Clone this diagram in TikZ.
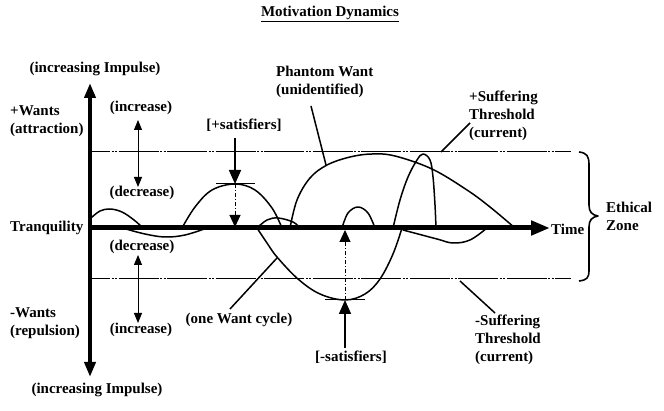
\documentclass[tikz,border=0pt]{standalone}
\usepackage{fontspec}
\setmainfont{Liberation Serif}
\usetikzlibrary{arrows.meta}
\tikzset{
  axtip/.tip={Triangle[length=15pt,width=11pt]},
  timetip/.tip={Triangle[length=19pt,width=14pt]},
  sattip/.tip={Triangle[length=14pt,width=12pt]},
  smalltip/.tip={Triangle[length=12pt,width=11pt]},
  dirtip/.tip={Triangle[length=10pt,width=8pt]},
}
\begin{document}
\begin{tikzpicture}[x=1pt,y=-1pt,
  lbl/.style={font=\fontsize{15}{18}\selectfont\bfseries, inner sep=0pt, align=left},
  axisline/.style={line width=4pt},
  timeline/.style={line width=5pt},
  curve/.style={line width=1.5pt, line join=round, line cap=round},
  leader/.style={line width=1.5pt},
  thresh/.style={line width=1pt, dash pattern=on 40pt off 1.5pt on 2pt off 1.5pt on 2pt off 1.5pt, dash phase=20pt},
  dotline/.style={line width=1pt, dash pattern=on 4pt off 2pt on 1pt off 2pt},
  tick/.style={line width=1pt},
  dirline/.style={line width=1pt},
  bracepath/.style={line width=1.6pt, line join=round}
]
\useasboundingbox (0,0) rectangle (664,411);

% title
\node[lbl] (title) at (330,14) {\underline{Motivation Dynamics}};

% axes
\coordinate (vtop) at (90,83);
\coordinate (vbot) at (90,377);
\coordinate (orig) at (88,228);
\coordinate (tend) at (550,228);
\draw[axisline, axtip-axtip] (vbot) -- (vtop);
\draw[timeline, -timetip] (orig) -- (tend);

% thresholds
\coordinate (uthL) at (90,152);
\coordinate (uthR) at (571,152);
\coordinate (lthL) at (90,279);
\coordinate (lthR) at (571,279);
\draw[thresh] (uthL) -- (uthR);
\draw[thresh] (lthL) -- (lthR);

% brace
\draw[bracepath] (579,152) .. controls (587,153) and (589,156) .. (589,165)
  -- (589,205) .. controls (589,212) and (592,215) .. (598,216)
  .. controls (592,217) and (589,220) .. (589,227)
  -- (589,270) .. controls (589,278) and (587,280) .. (579,281);

% left labels
\node[lbl] (impTop) at (95,69) {(increasing Impulse)};
\node[lbl, anchor=west] (wplus) at (10,121) {+Wants\\(attraction)};
\node[lbl, anchor=west] (tranq) at (10,228) {Tranquility};
\node[lbl, anchor=west] (wminus) at (10,323) {-Wants\\(repulsion)};
\node[lbl] (impBot) at (97,390) {(increasing Impulse)};

% increase / decrease
\node[lbl] (incU) at (141,108) {(increase)};
\node[lbl] (decU) at (142,193) {(decrease)};
\node[lbl] (decL) at (142,247) {(decrease)};
\node[lbl] (incL) at (141,330) {(increase)};
\coordinate (dU1) at (138,120);
\coordinate (dU2) at (138,187);
\coordinate (dL1) at (138,255);
\coordinate (dL2) at (138,323);
\draw[dirline, dirtip-dirtip] (dU1) -- (dU2);
\draw[dirline, dirtip-dirtip] (dL1) -- (dL2);

% curves
\draw[curve] plot[smooth, tension=0.6] coordinates {(91,218) (100,211) (110,209) (122,212) (134,220) (143,228)};
\draw[curve] plot[smooth, tension=0.6] coordinates {(126,229) (145,234) (165,237) (185,235) (207,228)};
\draw[curve] plot[smooth, tension=0.6] coordinates {(182,228) (195,207) (212,190) (235,184) (255,190) (272,208) (282,228)};
\draw[curve] plot[smooth, tension=0.6] coordinates {(257,228) (267,220) (278,218) (293,222) (300,228)};
\draw[curve] plot[smooth, tension=0.6] coordinates {(257,228) (267,243) (277,257) (298,279) (320,294) (345,300) (365,294) (380,279) (393,254) (402,228)};
\draw[curve] plot[smooth, tension=0.6] coordinates {(290,228) (297,200) (310,178) (327,165) (350,157) (372,154) (395,156) (432,169) (467,190) (490,207) (515,228)};
\draw[curve] plot[smooth, tension=0.6] coordinates {(342,228) (348,213) (358,207) (368,213) (375,228)};
\draw[curve] plot[smooth, tension=0.6] coordinates {(393,228) (400,200) (408,177) (417,160) (423,154) (430,160) (433,177) (435,205) (436,228)};
\draw[curve] plot[smooth, tension=0.6] coordinates {(403,230) (437,239) (453,243) (470,240) (487,228)};

% +satisfiers
\node[lbl] (psat) at (244,125) {[+satisfiers]};
\coordinate (ps1) at (235,138);
\coordinate (ps2) at (235,184);
\coordinate (ps3) at (235,227);
\coordinate (psL) at (216,184);
\coordinate (psR) at (255,184);
\draw[leader, -sattip] (ps1) -- (ps2);
\draw[tick] (psL) -- (psR);
\draw[dotline, -smalltip] (ps2) -- (ps3);

% -satisfiers
\node[lbl] (nsat) at (351,357) {[-satisfiers]};
\coordinate (ns1) at (345,348);
\coordinate (ns2) at (345,300);
\coordinate (ns3) at (345,230);
\coordinate (nsL) at (325,300);
\coordinate (nsR) at (365,300);
\draw[leader, -sattip] (ns1) -- (ns2);
\draw[tick] (nsL) -- (nsR);
\draw[dotline, -smalltip] (ns2) -- (ns3);

% one want cycle
\node[lbl] (cycle) at (239,320) {(one Want cycle)};
\coordinate (cy1) at (230,309);
\coordinate (cy2) at (277,258);
\draw[leader] (cy1) -- (cy2);

% phantom want
\node[lbl, anchor=west] (phantom) at (276,82) {Phantom Want\\(unidentified)};
\coordinate (ph1) at (311,106);
\coordinate (ph2) at (326,165);
\draw[leader] (ph1) -- (ph2);

% suffering thresholds
\node[lbl, anchor=west] (psuf) at (469,116) {+Suffering\\Threshold\\(current)};
\coordinate (pf1) at (470,123);
\coordinate (pf2) at (441,152);
\draw[leader] (pf1) -- (pf2);
\node[lbl, anchor=west] (nsuf) at (475,340) {-Suffering\\Threshold\\(current)};
\coordinate (nf1) at (460,281);
\coordinate (nf2) at (495,313);
\draw[leader] (nf1) -- (nf2);

% time, ethical zone
\node[lbl, anchor=west] (time) at (551,229) {Time};
\node[lbl, anchor=west] (ethic) at (606,216) {Ethical\\Zone};
\end{tikzpicture}
\end{document}
